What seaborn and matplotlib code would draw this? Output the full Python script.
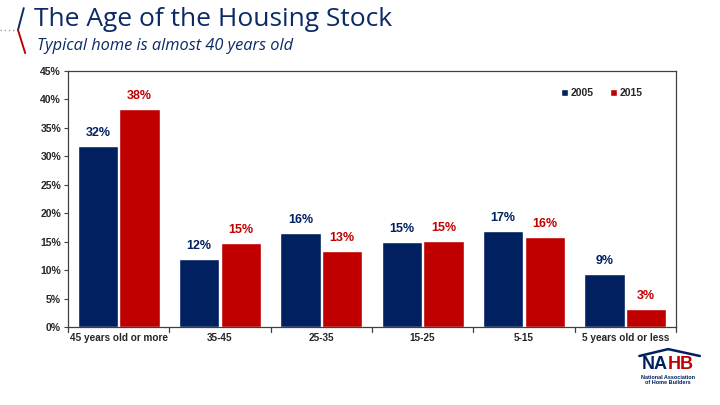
import matplotlib
matplotlib.use("Agg")
import matplotlib.pyplot as plt
import seaborn as sns
import pandas as pd
from matplotlib.lines import Line2D
from matplotlib.patches import Patch

categories = ["45 years old or more", "35-45", "25-35", "15-25", "5-15", "5 years old or less"]
years = ["2005", "2015"]
values_2005 = [31.9, 11.9, 16.5, 14.9, 16.8, 9.4]
values_2015 = [38.4, 14.7, 13.3, 15.1, 15.9, 3.1]
label_2005 = ["32%", "12%", "16%", "15%", "17%", "9%"]
label_2015 = ["38%", "15%", "13%", "15%", "16%", "3%"]
yticks = [0, 5, 10, 15, 20, 25, 30, 35, 40, 45]

navy = "#002060"
red = "#C00000"

df = pd.DataFrame({
    "category": categories * 2,
    "year": ["2005"] * len(categories) + ["2015"] * len(categories),
    "value": values_2005 + values_2015,
})

sns.set_style("white")
plt.rcParams["font.family"] = ["Liberation Sans", "DejaVu Sans"]

fig = plt.figure(figsize=(7.2, 4.05), dpi=100)
ax = fig.add_axes([0.0944, 0.1926, 0.8445, 0.632])

sns.barplot(data=df, x="category", y="value", hue="year", order=categories,
            hue_order=years, palette=[navy, red], width=0.82, gap=0.03,
            saturation=1, ax=ax, legend=False)

for cont, labels, col in zip(ax.containers, [label_2005, label_2015], [navy, red]):
    ax.bar_label(cont, labels=labels, padding=5, color=col, fontsize=9,
                 fontweight="bold")

ax.set_ylim(0, 45)
ax.set_yticks(yticks)
ax.set_yticklabels([f"{t}%" for t in yticks], fontsize=7.5, fontweight="bold")
ax.set_xticks(range(len(categories)))
ax.set_xticklabels(categories, fontsize=7.2, fontweight="bold")
ax.set_xlabel("")
ax.set_ylabel("")
ax.set_xlim(-0.5, len(categories) - 0.5)
for s in ax.spines.values():
    s.set_color("#404040")
    s.set_linewidth(0.9)
ax.tick_params(axis="y", length=3, color="#404040", left=True, pad=2)
ax.tick_params(axis="x", length=0, pad=4)
for i in range(len(categories) + 1):
    ax.plot([i - 0.5, i - 0.5], [0, -0.9], color="#404040", lw=0.9,
            clip_on=False)

handles = [Patch(facecolor=navy), Patch(facecolor=red)]
ax.legend(handles, years, loc="upper right", bbox_to_anchor=(0.96, 0.97),
          ncol=2, frameon=False, handlelength=0.7, handleheight=0.7,
          handletextpad=0.2, columnspacing=1.6,
          prop={"size": 7.5, "weight": "bold"})

# title block
fig.text(0.047, 0.953, "The Age of the Housing Stock", fontsize=19, color="#0B2A66",
         family=["Open Sans", "DejaVu Sans"], va="center")
fig.text(0.051, 0.886, "Typical home is almost 40 years old", fontsize=11.8,
         color="#0B2A66", style="italic", family=["Open Sans", "DejaVu Sans"],
         va="center")
fig.add_artist(Line2D([0.0, 0.024], [0.926, 0.926], transform=fig.transFigure,
                      color="#A0A0A0", lw=1, linestyle=(0, (1, 2))))
fig.add_artist(Line2D([0.033, 0.025], [0.980, 0.926], transform=fig.transFigure,
                      color="#0B2A66", lw=1.4))
fig.add_artist(Line2D([0.025, 0.035], [0.926, 0.869], transform=fig.transFigure,
                      color="#C00000", lw=1.4))

# NAHB logo (text approximation)
fig.text(0.928, 0.100, "NA", fontsize=13, fontweight="bold", color="#002060",
         ha="right", va="center")
fig.text(0.928, 0.100, "HB", fontsize=13, fontweight="bold", color="#C00000",
         ha="left", va="center")
fig.add_artist(Line2D([0.888, 0.928, 0.972], [0.121, 0.138, 0.121],
                      transform=fig.transFigure, color="#002060", lw=1.8))
fig.text(0.928, 0.062, "National Association\nof Home Builders", fontsize=4,
         fontweight="bold", color="#002060", ha="center", va="center",
         linespacing=1.0)

fig.savefig("out.png", dpi=100)
